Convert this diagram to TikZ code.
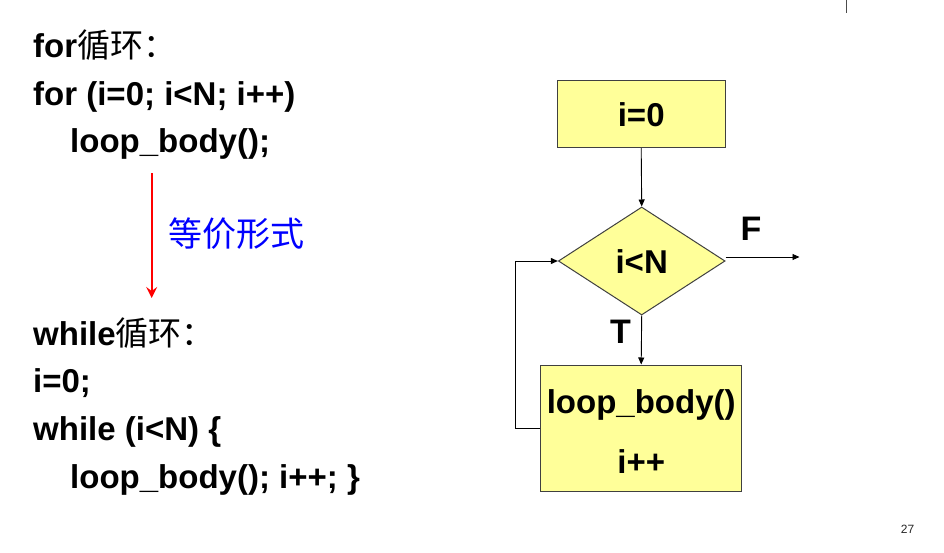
\documentclass[tikz,border=0pt]{standalone}
\usepackage{fontspec}
\setmainfont{Liberation Sans}
\newfontfamily\cjk{Noto Sans CJK SC}
\usetikzlibrary{shapes.geometric,arrows.meta}
\definecolor{boxfill}{HTML}{FFFF99}
\definecolor{boxline}{HTML}{404040}
\begin{document}
\begin{tikzpicture}[x=1pt,y=-1pt,
  code/.style={anchor=base west,inner sep=0pt,font=\fontsize{33}{38}\selectfont\bfseries},
  flbox/.style={draw=boxline,fill=boxfill,line width=1pt,inner sep=0pt},
  fltext/.style={inner sep=0pt,font=\fontsize{33}{38}\selectfont\bfseries},
  arr/.style={-{Triangle[length=7pt,width=6pt]},line width=0.9pt,black},
  lbl/.style={inner sep=0pt,font=\fontsize{34}{38}\selectfont\bfseries}]
\useasboundingbox (0,0) rectangle (944,553);
% left text
\node[code] (l1) at (33,57.5) {for{\cjk\mdseries 循环：}};
\node[code] (l2) at (33,105.2) {for (i=0; i<N; i++)};
\node[code] (l3) at (70,153) {loop\_body();};
\node[code] (l4) at (33,345) {while{\cjk\mdseries 循环：}};
\node[code] (l5) at (33,392.7) {i=0;};
\node[code] (l6) at (33,440.4) {while (i<N) \{};
\node[code] (l7) at (70,488) {loop\_body(); i++; \}};
% red arrow
\coordinate (ra1) at (151.7,173.3);
\coordinate (ra2) at (151.7,298);
\draw[red,line width=2.3pt,-{Stealth[length=11pt,width=11pt,inset=4pt]}] (ra1) -- (ra2);
\node[inner sep=0pt,text=blue,font=\fontsize{34}{38}\selectfont\cjk] (eq) at (236,234) {等价形式};
% flowchart
\node[flbox,minimum width=167.7pt,minimum height=67pt] (init) at (641.2,114.2) {};
\node[fltext,anchor=base] (initt) at (641.2,126.7) {i=0};
\node[flbox,diamond,minimum width=166.7pt,minimum height=108pt] (d) at (641.7,261) {};
\node[fltext,anchor=base] (dt) at (641.7,273) {i<N};
\node[flbox,minimum width=201pt,minimum height=126pt] (lb) at (641.2,428) {};
\node[fltext,anchor=base] (lbt1) at (641.2,413.3) {loop\_body()};
\node[fltext,anchor=base] (lbt2) at (641.2,473) {i++};
\draw[arr] (init.south) -- (d.north);
\draw[arr] (d.south) -- (lb.north);
\coordinate (fend) at (799.5,257);
\draw[arr] ([yshift=4pt]d.east) -- (fend);
\coordinate (lp) at (515.7,428);
\draw[arr] (lb.west) -- (lp) |- (d.west);
\node[lbl] (T) at (620.5,331.5) {T};
\node[lbl] (F) at (751,229) {F};
% page furniture
\coordinate (tl1) at (846.5,0);
\coordinate (tl2) at (846.5,13.3);
\draw[line width=1.3pt,black!70] (tl1) -- (tl2);
\node[inner sep=0pt,anchor=base,font=\fontsize{12}{14}\selectfont,text=black!85] (pg) at (907.5,533.5) {27};
\end{tikzpicture}
\end{document}
